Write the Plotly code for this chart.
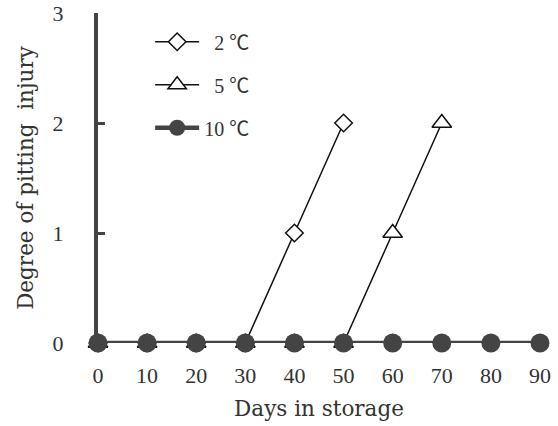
import plotly.graph_objects as go

days = [0, 10, 20, 30, 40, 50, 60, 70, 80, 90]
days_2c = [0, 10, 20, 30, 40, 50]
inj_2c = [0, 0, 0, 0, 1, 2]
days_5c = [0, 10, 20, 30, 40, 50, 60, 70]
inj_5c = [0, 0, 0, 0, 0, 0, 1, 2]
inj_10c = [0, 0, 0, 0, 0, 0, 0, 0, 0, 0]
names = ["\u20072 ℃", "\u20075 ℃", "10 ℃"]

axis_col = "#444444"
ff = "Liberation Serif, Noto Sans CJK SC, serif"
font = dict(family=ff, size=22, color="#333333")
title_font = dict(family="DejaVu Serif, serif", size=21.5, color="#333333")

fig = go.Figure()
fig.add_trace(go.Scatter(x=days_2c, y=inj_2c, name=names[0], mode="lines+markers",
                         line=dict(color="#111111", width=1.5),
                         marker=dict(symbol="diamond", size=13.5, color="white",
                                     line=dict(color="#111111", width=1.5)),
                         legendgroup="a", cliponaxis=False))
fig.add_trace(go.Scatter(x=days_5c, y=inj_5c, name=names[1], mode="lines+markers",
                         line=dict(color="#111111", width=1.5),
                         marker=dict(symbol="triangle-up", size=17, color="white",
                                     line=dict(color="#111111", width=1.5)),
                         legendgroup="b", cliponaxis=False))
fig.add_trace(go.Scatter(x=days, y=inj_10c, name=names[2], mode="lines+markers",
                         line=dict(color=axis_col, width=4.5),
                         marker=dict(symbol="circle", size=19, color=axis_col,
                                     line=dict(color=axis_col, width=0)),
                         legendgroup="c", cliponaxis=False))

fig.update_layout(
    width=558, height=426,
    margin=dict(l=98, r=18, t=13, b=83, autoexpand=False),
    paper_bgcolor="white", plot_bgcolor="white",
    font=font,
    showlegend=True,
    legend=dict(x=0.118, y=0.972, xanchor="left", yanchor="top",
                bgcolor="rgba(0,0,0,0)", tracegroupgap=14,
                itemwidth=44, font=dict(size=20, color="#333333")),
    xaxis=dict(range=[0, 90], tickvals=days, showgrid=False, zeroline=False,
               showline=False, ticks="", ticklabelstandoff=17, automargin=False,
               title=dict(text="Days in storage", standoff=13, font=title_font)),
    yaxis=dict(range=[0, 3], tickvals=[0, 1, 2, 3], showgrid=False, zeroline=False,
               showline=True, linecolor=axis_col, linewidth=4,
               ticks="inside", ticklen=7, tickwidth=3, tickcolor=axis_col,
               ticklabelstandoff=26, automargin=False, ticklabeloverflow="allow",
               title=dict(text="Degree of pitting  injury", standoff=14, font=title_font)),
)

fig.write_html("out.html", config={"displayModeBar": False},
               post_script="document.body.style.margin='0';")
